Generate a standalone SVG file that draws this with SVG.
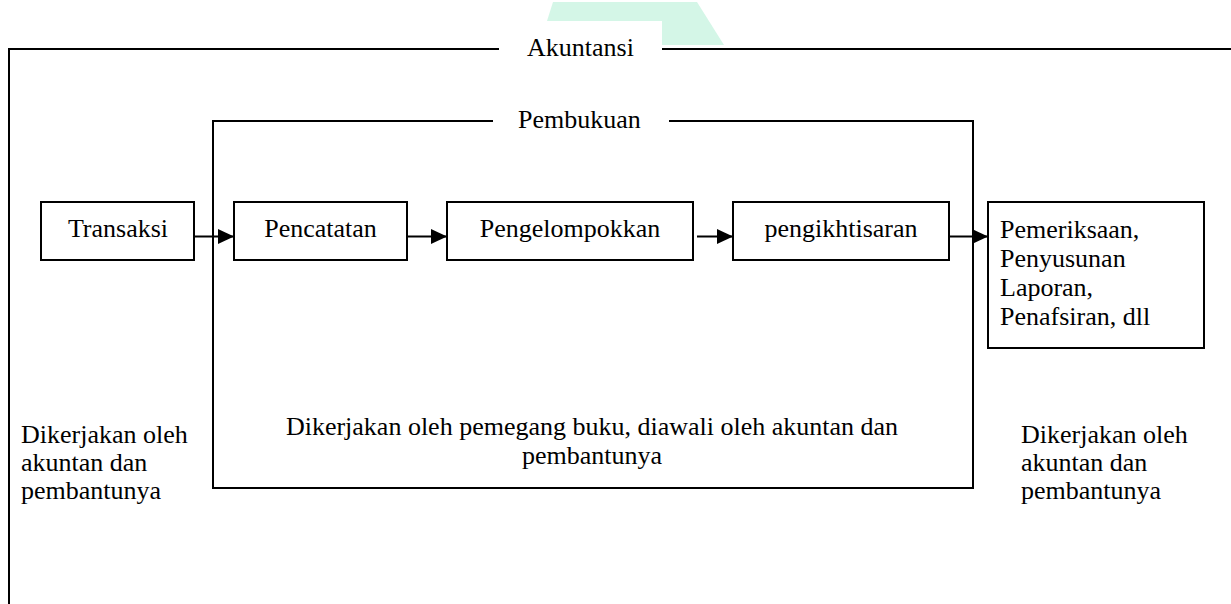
<svg xmlns="http://www.w3.org/2000/svg" width="1231" height="604" viewBox="0 0 1231 604">
  <style>
    .ln { stroke: #000; stroke-width: 2; fill: none; }
    .box { stroke: #000; stroke-width: 2; fill: #fff; }
    .t { font-family: "Liberation Serif", "Times New Roman", serif; font-size: 26px; fill: #000; }
    .c { text-anchor: middle; }
  </style>
  <defs>
    <marker id="arr" markerUnits="userSpaceOnUse" markerWidth="16" markerHeight="16" refX="16" refY="8" orient="auto">
      <path d="M0,0.5 L16,8 L0,15.5 Z" fill="#000"/>
    </marker>
  </defs>
  <rect width="1231" height="604" fill="#fff"/>
  <!-- faint watermark -->
  <polygon points="553,2 697,2 724,45 662,45 662,21 547,21" fill="#c9f4e1" opacity="0.8"/>

  <g id="akuntansi">
    <path class="ln" d="M9,604 L9,49 L499,49 M662,49 L1231,49"/>
    <text class="t" x="527" y="56">Akuntansi</text>
  </g>

  <g id="pembukuan">
    <path class="ln" d="M493,121 L213,121 L213,488 L973,488 L973,121 L669,121"/>
    <text class="t" x="518" y="128">Pembukuan</text>
    <text class="t c" x="592" y="435">Dikerjakan oleh pemegang buku, diawali oleh akuntan dan</text>
    <text class="t c" x="592" y="464">pembantunya</text>
  </g>

  <g id="transaksi">
    <rect class="box" x="41" y="202" width="153" height="58"/>
    <text class="t c" x="118" y="237">Transaksi</text>
  </g>

  <g id="pencatatan">
    <rect class="box" x="234" y="202" width="173" height="58"/>
    <text class="t c" x="320.5" y="237">Pencatatan</text>
  </g>

  <g id="pengelompokkan">
    <rect class="box" x="447" y="202" width="246" height="58"/>
    <text class="t c" x="570" y="237">Pengelompokkan</text>
  </g>

  <g id="pengikhtisaran">
    <rect class="box" x="733" y="202" width="216" height="58"/>
    <text class="t c" x="841" y="237">pengikhtisaran</text>
  </g>

  <g id="pemeriksaan">
    <rect class="box" x="988" y="202" width="216" height="146"/>
    <text class="t" x="1000" y="238">Pemeriksaan,</text>
    <text class="t" x="1000" y="267">Penyusunan</text>
    <text class="t" x="1000" y="296">Laporan,</text>
    <text class="t" x="1000" y="325">Penafsiran, dll</text>
  </g>

  <g id="note-left">
    <text class="t" x="21" y="443">Dikerjakan oleh</text>
    <text class="t" x="21" y="471">akuntan dan</text>
    <text class="t" x="21" y="499">pembantunya</text>
  </g>

  <g id="note-right">
    <text class="t" x="1021" y="443">Dikerjakan oleh</text>
    <text class="t" x="1021" y="471">akuntan dan</text>
    <text class="t" x="1021" y="499">pembantunya</text>
  </g>

  <g id="connectors">
    <line class="ln" x1="194" y1="236.5" x2="234" y2="236.5" marker-end="url(#arr)"/>
    <line class="ln" x1="407" y1="236.5" x2="447" y2="236.5" marker-end="url(#arr)"/>
    <line class="ln" x1="697" y1="236.5" x2="733" y2="236.5" marker-end="url(#arr)"/>
    <line class="ln" x1="949" y1="236.5" x2="988" y2="236.5" marker-end="url(#arr)"/>
  </g>
</svg>
